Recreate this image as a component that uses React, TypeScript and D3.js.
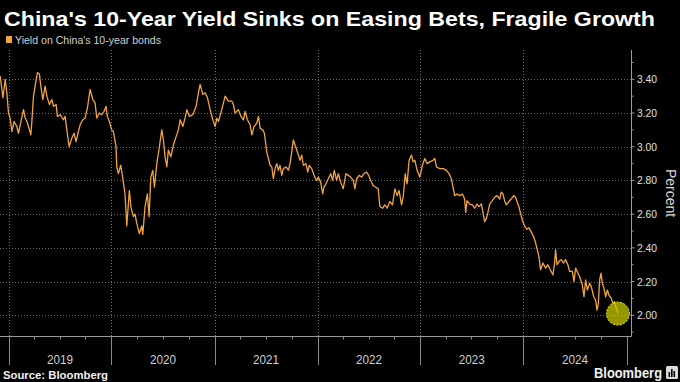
import React from "react";
import * as d3 from "d3";

// Decimal-year dates and yields
const dates: number[] = [
  2018.919, 2018.946, 2018.968, 2018.984, 2019.0, 2019.016, 2019.033, 2019.055, 2019.081, 2019.097,
  2019.114, 2019.146, 2019.162, 2019.179, 2019.204, 2019.217, 2019.227, 2019.243, 2019.269, 2019.281,
  2019.301, 2019.314, 2019.334, 2019.356, 2019.373, 2019.398, 2019.421, 2019.437, 2019.463, 2019.475,
  2019.502, 2019.534, 2019.55, 2019.567, 2019.589, 2019.615, 2019.637, 2019.657, 2019.679, 2019.696,
  2019.722, 2019.744, 2019.767, 2019.793, 2019.819, 2019.841, 2019.858, 2019.883, 2019.906, 2019.929,
  2019.948, 2019.961, 2019.98, 2020.003, 2020.019, 2020.045, 2020.052, 2020.067, 2020.091, 2020.116,
  2020.132, 2020.149, 2020.174, 2020.19, 2020.213, 2020.229, 2020.246, 2020.271, 2020.294, 2020.304,
  2020.326, 2020.349, 2020.365, 2020.382, 2020.401, 2020.417, 2020.44, 2020.465, 2020.488, 2020.504,
  2020.52, 2020.537, 2020.552, 2020.576, 2020.601, 2020.627, 2020.649, 2020.666, 2020.692, 2020.714,
  2020.731, 2020.756, 2020.789, 2020.821, 2020.843, 2020.86, 2020.886, 2020.908, 2020.931, 2020.957,
  2020.983, 2021.005, 2021.022, 2021.037, 2021.061, 2021.086, 2021.102, 2021.134, 2021.168, 2021.183,
  2021.2, 2021.232, 2021.255, 2021.28, 2021.297, 2021.319, 2021.345, 2021.362, 2021.384, 2021.41,
  2021.426, 2021.442, 2021.468, 2021.484, 2021.507, 2021.523, 2021.539, 2021.556, 2021.571, 2021.588,
  2021.604, 2021.62, 2021.636, 2021.653, 2021.668, 2021.694, 2021.717, 2021.733, 2021.75, 2021.765,
  2021.782, 2021.804, 2021.83, 2021.847, 2021.862, 2021.888, 2021.905, 2021.92, 2021.944, 2021.966,
  2021.992, 2022.008, 2022.031, 2022.05, 2022.063, 2022.082, 2022.105, 2022.128, 2022.147, 2022.163,
  2022.186, 2022.202, 2022.225, 2022.25, 2022.276, 2022.299, 2022.322, 2022.347, 2022.364, 2022.38,
  2022.405, 2022.429, 2022.451, 2022.477, 2022.497, 2022.516, 2022.541, 2022.567, 2022.59, 2022.606,
  2022.632, 2022.655, 2022.677, 2022.703, 2022.729, 2022.752, 2022.774, 2022.793, 2022.817, 2022.832,
  2022.842, 2022.852, 2022.871, 2022.89, 2022.914, 2022.929, 2022.946, 2022.968, 2022.994, 2023.02,
  2023.043, 2023.065, 2023.091, 2023.123, 2023.14, 2023.156, 2023.188, 2023.22, 2023.253, 2023.278,
  2023.301, 2023.317, 2023.333, 2023.356, 2023.382, 2023.408, 2023.43, 2023.44, 2023.453, 2023.479,
  2023.505, 2023.527, 2023.55, 2023.569, 2023.592, 2023.608, 2023.624, 2023.641, 2023.656, 2023.673,
  2023.699, 2023.721, 2023.744, 2023.77, 2023.786, 2023.802, 2023.818, 2023.835, 2023.86, 2023.883,
  2023.906, 2023.925, 2023.938, 2023.957, 2023.971, 2023.99, 2024.012, 2024.035, 2024.054, 2024.077,
  2024.1, 2024.119, 2024.135, 2024.151, 2024.167, 2024.19, 2024.216, 2024.238, 2024.262, 2024.287,
  2024.303, 2024.313, 2024.326, 2024.345, 2024.368, 2024.391, 2024.41, 2024.432, 2024.449, 2024.475,
  2024.491, 2024.507, 2024.529, 2024.546, 2024.572, 2024.588, 2024.604, 2024.621, 2024.643, 2024.659,
  2024.682, 2024.701, 2024.714, 2024.727, 2024.74, 2024.753, 2024.766, 2024.782, 2024.798, 2024.815,
  2024.83, 2024.853, 2024.869, 2024.885, 2024.902, 2024.917,
];

const yields: number[] = [
  3.42, 3.29, 3.4, 3.32, 3.2, 3.17, 3.09, 3.15, 3.12, 3.08,
  3.13, 3.22, 3.17, 3.15, 3.1, 3.07, 3.15, 3.3, 3.4, 3.44,
  3.43, 3.36, 3.28, 3.36, 3.3, 3.25, 3.28, 3.24, 3.25, 3.18,
  3.19, 3.16, 3.18, 3.1, 3.0, 3.05, 3.08, 3.03, 3.09, 3.13,
  3.16, 3.17, 3.23, 3.34, 3.28, 3.26, 3.17, 3.2, 3.19, 3.21,
  3.24, 3.18, 3.15, 3.1, 3.09, 3.0, 2.88, 2.84, 2.89, 2.79,
  2.72, 2.53, 2.74, 2.64, 2.585, 2.6, 2.545, 2.485, 2.53, 2.48,
  2.645, 2.72, 2.585, 2.82, 2.86, 2.76, 2.9, 3.0, 3.1, 3.04,
  2.94, 2.88, 2.98, 2.94, 3.01, 3.06, 3.1, 3.16, 3.12, 3.17,
  3.22, 3.18, 3.19, 3.24, 3.32, 3.37, 3.31, 3.32, 3.29, 3.22,
  3.16, 3.12, 3.17, 3.15, 3.2, 3.26, 3.3, 3.27, 3.27, 3.25,
  3.2, 3.22, 3.18, 3.16, 3.21, 3.16, 3.13, 3.07, 3.12, 3.14,
  3.18, 3.11, 3.1, 3.08, 2.97, 2.93, 2.89, 2.88, 2.81, 2.87,
  2.9, 2.86, 2.89, 2.83, 2.87, 2.88, 2.86, 2.9, 2.97, 3.04,
  3.01, 2.97, 2.92, 2.95, 2.89, 2.9, 2.85, 2.89, 2.87, 2.83,
  2.8, 2.82, 2.79, 2.72, 2.76, 2.78, 2.81, 2.84, 2.8, 2.86,
  2.8, 2.84, 2.79, 2.75, 2.84, 2.83, 2.82, 2.8, 2.75, 2.81,
  2.83, 2.82, 2.84, 2.85, 2.83, 2.8, 2.77, 2.76, 2.75, 2.645,
  2.635, 2.655, 2.635, 2.675, 2.655, 2.75, 2.71, 2.74, 2.655, 2.7,
  2.76, 2.84, 2.78, 2.92, 2.95, 2.91, 2.92, 2.86, 2.82, 2.89,
  2.93, 2.9, 2.91, 2.92, 2.93, 2.88, 2.87, 2.87, 2.86, 2.84,
  2.81, 2.76, 2.71, 2.72, 2.71, 2.72, 2.69, 2.61, 2.68, 2.66,
  2.655, 2.635, 2.66, 2.645, 2.66, 2.61, 2.555, 2.575, 2.61, 2.66,
  2.68, 2.7, 2.71, 2.69, 2.73, 2.72, 2.68, 2.655, 2.675, 2.69,
  2.71, 2.7, 2.675, 2.645, 2.61, 2.565, 2.53, 2.51, 2.52, 2.495,
  2.465, 2.43, 2.39, 2.35, 2.27, 2.31, 2.28, 2.3, 2.27, 2.24,
  2.31, 2.39, 2.3, 2.32, 2.33, 2.31, 2.33, 2.3, 2.26, 2.26,
  2.2, 2.28, 2.25, 2.23, 2.18, 2.11, 2.21, 2.15, 2.19, 2.17,
  2.11, 2.09, 2.03, 2.07, 2.21, 2.25, 2.19, 2.16, 2.11, 2.15,
  2.12, 2.1, 2.07, 2.08, 2.04, 2.01,
];

const yearLabels: number[] = [2019, 2020, 2021, 2022, 2023, 2024];
const yTickValues: number[] = [2.0, 2.2, 2.4, 2.6, 2.8, 3.0, 3.2, 3.4];
const yMinorTicks: number[] = [1.9, 2.1, 2.3, 2.5, 2.7, 2.9, 3.1, 3.3, 3.5];

const TITLE = "China's 10-Year Yield Sinks on Easing Bets, Fragile Growth";
const LEGEND = "Yield on China's 10-year bonds";
const SOURCE = "Source: Bloomberg";

const W = 680;
const H = 382;
const LINE_COLOR = "#f2a440";
const FONT = "'Liberation Sans', Arial, sans-serif";

function decToDate(d: number): Date {
  const y = Math.floor(d);
  const s = Date.UTC(y, 0, 1);
  const e = Date.UTC(y + 1, 0, 1);
  return new Date(s + (d - y) * (e - s));
}

export default function App() {
  const plotTop = 50;
  const plotBottom = 336.5;
  const plotLeft = 0;
  const axisX = 631.5;

  const x = d3
    .scaleUtc()
    .domain([new Date(Date.UTC(2019, 0, 1)), new Date(Date.UTC(2025, 0, 1))])
    .range([8.5, 626.5]);
  const y = d3.scaleLinear().domain([2.0, 3.4]).range([315.3, 79.3]);

  const data = dates.map((d, i) => ({ date: decToDate(d), v: yields[i] }));
  const line = d3
    .line<{ date: Date; v: number }>()
    .x((d) => x(d.date))
    .y((d) => y(d.v));

  const yearStarts = d3.range(2019, 2026).map((yr) => new Date(Date.UTC(yr, 0, 1)));
  const quarterTicks = d3.utcMonth
    .every(3)!
    .range(new Date(Date.UTC(2019, 0, 1)), new Date(Date.UTC(2025, 0, 1)))
    .filter((d) => d.getUTCMonth() !== 0);

  const last = data[data.length - 1];

  return (
    <svg
      width={W}
      height={H}
      style={{ position: "absolute", left: 0, top: 0, background: "#000" }}
      fontFamily={FONT}
    >
      <rect x={0} y={0} width={W} height={H} fill="#000" />
      <text
        x={4}
        y={26}
        fill="#fff"
        fontSize={21}
        fontWeight="bold"
        textLength={651}
        lengthAdjust="spacingAndGlyphs"
      >
        {TITLE}
      </text>
      <rect x={6} y={36} width={6} height={7} fill={LINE_COLOR} />
      <text x={15} y={43.5} fill="#d0d0d0" fontSize={10.5} textLength={146} lengthAdjust="spacingAndGlyphs">
        {LEGEND}
      </text>

      {/* horizontal gridlines */}
      {yTickValues.map((t) => (
        <line
          key={"h" + t}
          x1={plotLeft}
          x2={axisX}
          y1={Math.round(y(t)) + 0.5}
          y2={Math.round(y(t)) + 0.5}
          stroke="#6a6a6a"
          strokeWidth={1}
          strokeDasharray="1,2"
        />
      ))}
      {/* vertical gridlines */}
      {yearStarts.slice(0, 6).map((d, i) => (
        <line
          key={"v" + i}
          x1={Math.round(x(d)) + 0.5}
          x2={Math.round(x(d)) + 0.5}
          y1={plotTop}
          y2={plotBottom}
          stroke="#6a6a6a"
          strokeWidth={1}
          strokeDasharray="1,2"
        />
      ))}

      {/* x axis */}
      <line x1={0} x2={axisX} y1={plotBottom} y2={plotBottom} stroke="#9a9a9a" strokeWidth={1} />
      {yearStarts.map((d, i) => (
        <line
          key={"ys" + i}
          x1={Math.round(x(d)) + 0.5}
          x2={Math.round(x(d)) + 0.5}
          y1={plotBottom}
          y2={365}
          stroke="#8a8a8a"
          strokeWidth={1}
        />
      ))}
      {quarterTicks.map((d, i) => (
        <line
          key={"q" + i}
          x1={Math.round(x(d)) + 0.5}
          x2={Math.round(x(d)) + 0.5}
          y1={plotBottom}
          y2={plotBottom + 3}
          stroke="#8a8a8a"
          strokeWidth={1}
        />
      ))}
      {yearLabels.map((yr) => {
        const a = x(new Date(Date.UTC(yr, 0, 1)));
        const b = x(new Date(Date.UTC(yr + 1, 0, 1)));
        return (
          <text
            key={"yl" + yr}
            x={(a + b) / 2}
            y={364}
            fill="#cfcfcf"
            fontSize={13}
            textAnchor="middle"
            textLength={26}
            lengthAdjust="spacingAndGlyphs"
          >
            {yr}
          </text>
        );
      })}

      {/* right y axis */}
      <line x1={axisX} x2={axisX} y1={plotTop} y2={plotBottom} stroke="#9a9a9a" strokeWidth={1} />
      {yTickValues.map((t) => (
        <g key={"yt" + t}>
          <line x1={axisX} x2={axisX + 3} y1={y(t)} y2={y(t)} stroke="#9a9a9a" />
          <text x={637} y={y(t) + 4} fill="#e0e0e0" fontSize={11.5} textLength={20} lengthAdjust="spacingAndGlyphs">
            {t.toFixed(2)}
          </text>
        </g>
      ))}
      {yMinorTicks.map((t) => (
        <line key={"ym" + t} x1={axisX} x2={axisX + 2} y1={y(t)} y2={y(t)} stroke="#9a9a9a" />
      ))}
      <text
        transform={`translate(666,193) rotate(90)`}
        fill="#d8d8d8"
        fontSize={14}
        textAnchor="middle"
      >
        Percent
      </text>

      {/* series */}
      <path d={line(data) || ""} fill="none" stroke={LINE_COLOR} strokeWidth={1.3} strokeLinejoin="round" />

      {/* highlight circle */}
      <circle
        cx={x(last.date)}
        cy={y(2.01)}
        r={11.5}
        fill="rgba(200,200,0,0.75)"
        stroke="#e8e830"
        strokeWidth={1}
        strokeDasharray="2,1.5"
      />

      {/* footer */}
      <text x={3} y={378.5} fill="#f0f0f0" fontSize={11} fontWeight="bold" textLength={105} lengthAdjust="spacingAndGlyphs">
        {SOURCE}
      </text>
      <text x={594} y={378} fill="#f0f0f0" fontSize={14.5} fontWeight="bold" textLength={68} lengthAdjust="spacingAndGlyphs">
        Bloomberg
      </text>
      <rect x={666} y={366} width={12} height={13} rx={1.5} fill="#dcdcdc" />
      <rect x={668.5} y={372} width={1.6} height={5} fill="#000" />
      <rect x={671} y={369} width={1.6} height={8} fill="#000" />
      <rect x={673.5} y={371} width={1.6} height={6} fill="#000" />
    </svg>
  );
}
